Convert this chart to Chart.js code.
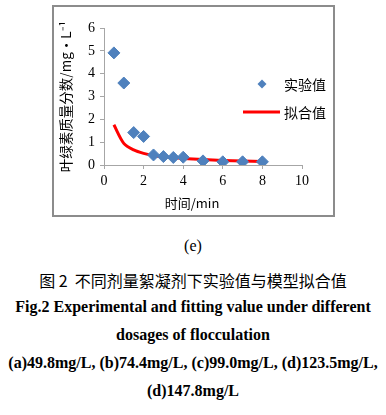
<!DOCTYPE html>
<html>
<head>
<meta charset="utf-8">
<script src="https://cdn.jsdelivr.net/npm/chart.js@4.4.1/dist/chart.umd.min.js"></script>
<style>
  body { margin: 0; background: #fff; width: 386px; height: 415px; position: relative; overflow: hidden; }
  #box { position: absolute; left: 52px; top: 5px; width: 283px; height: 212px; border: 2px solid #8c8c8c; box-sizing: border-box; }
  #box canvas { position: absolute; left: 0; top: 0; }
  .cap { position: absolute; left: 0; width: 386px; text-align: center; color: #000; white-space: nowrap; }
  .en { font-family: "Liberation Serif", "Times New Roman", serif; font-weight: bold; font-size: 16px; }
</style>
</head>
<body>
<div id="box"><canvas id="chart" width="279" height="208"></canvas></div>
<div class="cap" style="top:237px; font-family:'Liberation Serif',serif; font-size:16px;">(e)</div>
<div class="cap" style="top:268px; font-family:'Noto Sans CJK SC',sans-serif; font-size:16px;">图 2&nbsp; 不同剂量絮凝剂下实验值与模型拟合值</div>
<div class="cap en" style="top:298px;">Fig.2 Experimental and fitting value under different</div>
<div class="cap en" style="top:326px;">dosages of flocculation</div>
<div class="cap en" style="top:354px;">(a)49.8mg/L, (b)74.4mg/L, (c)99.0mg/L, (d)123.5mg/L,</div>
<div class="cap en" style="top:382px;">(d)147.8mg/L</div>
<script>
// 数据
const tiempos = [0.5, 1, 1.5, 2, 2.5, 3, 3.5, 4, 5, 6, 7, 8];
const experimental = [4.91, 3.59, 1.42, 1.25, 0.44, 0.37, 0.33, 0.34, 0.18, 0.14, 0.14, 0.14];
const ajuste = [1.76, 0.95, 0.66, 0.51, 0.42, 0.36, 0.32, 0.29, 0.24, 0.2, 0.17, 0.15];
const xTicks = [0, 2, 4, 6, 8, 10];
const yTicks = [0, 1, 2, 3, 4, 5, 6];
const labelExp = '实验值';
const labelFit = '拟合值';
const tituloX = '时间/min';

const serif = '"Liberation Serif", "Times New Roman", serif';
const cjk = '"Noto Sans CJK SC", sans-serif';

// Leyenda y título del eje X dibujados a mano
const leyendaPlugin = {
    id: 'leyenda',
    afterDraw(chart) {
        const ctx = chart.ctx;
        ctx.save();
        ctx.fillStyle = '#4F81BD';
        ctx.beginPath();
        const mx = 208, my = 77, r = 4.5;
        ctx.moveTo(mx, my - r); ctx.lineTo(mx + r, my); ctx.lineTo(mx, my + r); ctx.lineTo(mx - r, my);
        ctx.closePath();
        ctx.fill();
        ctx.strokeStyle = '#ff0000';
        ctx.lineWidth = 3;
        ctx.beginPath();
        ctx.moveTo(189, 105); ctx.lineTo(226, 105);
        ctx.stroke();
        ctx.fillStyle = '#000';
        ctx.font = '14px ' + cjk;
        ctx.textBaseline = 'middle';
        ctx.fillText(labelExp, 230, 78);
        ctx.fillText(labelFit, 230, 106);
        ctx.font = '13px ' + cjk;
        ctx.textAlign = 'center';
        ctx.fillText(tituloX, 138, 196);
        ctx.restore();
    }
};

const ctx = document.getElementById('chart').getContext('2d');
new Chart(ctx, {
    type: 'scatter',
    data: {
        datasets: [{
            label: labelFit,
            data: tiempos.map((t, i) => ({ x: t, y: ajuste[i] })),
            showLine: true,
            borderColor: '#ff0000',
            borderWidth: 3,
            pointRadius: 0,
            tension: 0.3,
            order: 2
        }, {
            label: labelExp,
            data: tiempos.map((t, i) => ({ x: t, y: experimental[i] })),
            pointStyle: 'rectRot',
            pointRadius: 6,
            backgroundColor: '#4F81BD',
            borderColor: '#4F81BD',
            order: 1
        }]
    },
    options: {
        animation: false,
        responsive: false,
        layout: { padding: { top: 21, right: 31, left: 0, bottom: 0 } },
        plugins: { legend: { display: false }, tooltip: { enabled: false } },
        scales: {
            x: {
                min: 0, max: 10,
                afterBuildTicks: s => { s.ticks = xTicks.map(v => ({ value: v })); },
                afterFit: s => { s.height = 50; },
                grid: { drawOnChartArea: false, color: '#a6a6a6', tickLength: 4 },
                border: { color: '#a6a6a6' },
                ticks: { color: '#000', font: { family: serif, size: 14 }, padding: 4, maxRotation: 0 }
            },
            y: {
                min: 0, max: 6,
                afterBuildTicks: s => { s.ticks = yTicks.map(v => ({ value: v })); },
                afterFit: s => { s.width = 50; },
                grid: { drawOnChartArea: false, color: '#a6a6a6', tickLength: 4 },
                border: { color: '#a6a6a6' },
                ticks: { color: '#000', font: { family: serif, size: 14 }, padding: 5 },
                title: { display: true, text: '叶绿素质量分数/mg·L⁻¹', color: '#000', font: { family: cjk, size: 13.5 }, padding: { bottom: 2 } }
            }
        }
    },
    plugins: [leyendaPlugin]
});
</script>
</body>
</html>
